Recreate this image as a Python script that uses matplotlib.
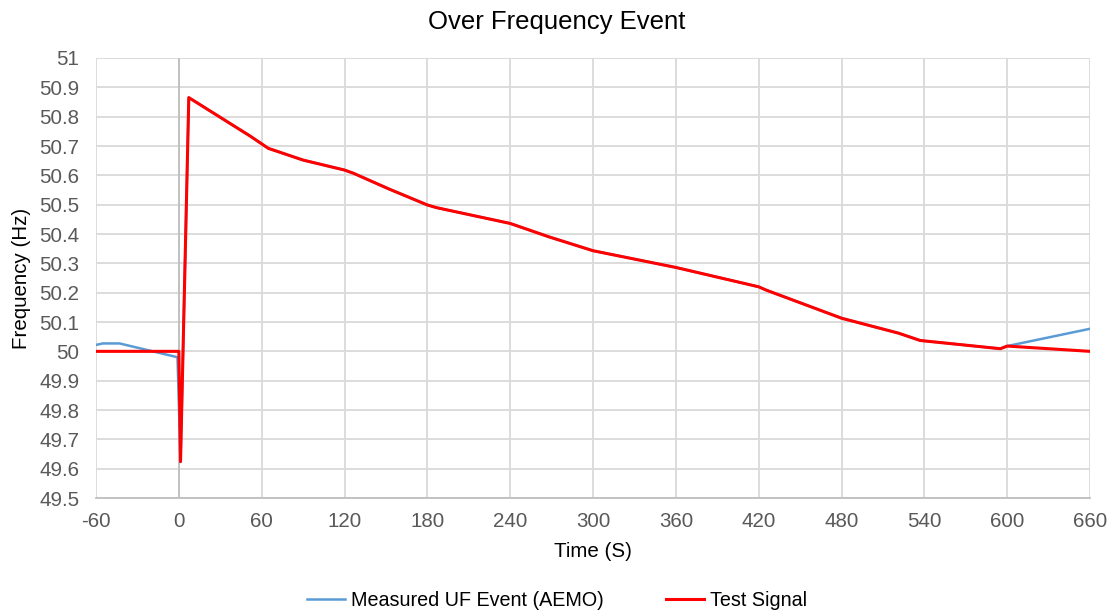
import matplotlib.pyplot as plt

# data
time_red = [-60, 0, 1.2, 7.2, 51.6, 64.8, 90, 120, 126.5, 152.4, 180, 186.5,
            240, 268.3, 300, 360, 420, 425.3, 480, 521.3, 537, 595, 600, 660]
freq_red = [50.0, 50.0, 49.624, 50.865, 50.734, 50.692, 50.652, 50.618, 50.607,
            50.553, 50.499, 50.49, 50.436, 50.39, 50.343, 50.286, 50.22, 50.209,
            50.113, 50.062, 50.037, 50.009, 50.018, 50.0]

time_blue = [-60, -55, -43, -1, 1.2, 7.2, 51.6, 64.8, 90, 120, 126.5, 152.4, 180,
             186.5, 240, 268.3, 300, 360, 420, 425.3, 480, 521.3, 537, 595, 600, 660]
freq_blue = [50.022, 50.027, 50.027, 49.98, 49.624, 50.865, 50.734, 50.692, 50.652,
             50.618, 50.607, 50.553, 50.499, 50.49, 50.436, 50.39, 50.343, 50.286,
             50.22, 50.209, 50.113, 50.062, 50.037, 50.009, 50.018, 50.077]

x_ticks = list(range(-60, 661, 60))
y_ticks = [49.5, 49.6, 49.7, 49.8, 49.9, 50, 50.1, 50.2, 50.3, 50.4, 50.5, 50.6, 50.7, 50.8, 50.9, 51]
y_labels = ["49.5", "49.6", "49.7", "49.8", "49.9", "50", "50.1", "50.2", "50.3",
            "50.4", "50.5", "50.6", "50.7", "50.8", "50.9", "51"]

plt.rcParams['font.family'] = ['Liberation Sans', 'DejaVu Sans']
plt.rcParams['axes.unicode_minus'] = False

fig = plt.figure(figsize=(11.14, 6.15), dpi=100)
ax = fig.add_axes([0.0862, 0.1902, 0.8923, 0.7155])

ax.plot(time_blue, freq_blue, color="#5b9bd5", linewidth=1.8, label="Measured UF Event (AEMO)")
ax.plot(time_red, freq_red, color="#ff0000", linewidth=2.2, label="Test Signal")

ax.set_xlim(-60, 660)
ax.set_ylim(49.5, 51)
ax.set_xticks(x_ticks)
ax.set_yticks(y_ticks)
ax.set_yticklabels(y_labels)
ax.grid(True, color="#d9d9d9", linewidth=1.3)
ax.set_axisbelow(True)
ax.axvline(0, color="#bfbfbf", linewidth=1.3, zorder=1)

for s in ["top", "right", "left"]:
    ax.spines[s].set_visible(False)
ax.spines["bottom"].set_color("#bfbfbf")
ax.spines["bottom"].set_linewidth(1.3)
ax.tick_params(axis="y", length=0, labelsize=14.8, colors="#595959", pad=12)
ax.tick_params(axis="x", length=0, labelsize=14.8, colors="#595959", pad=10)

fig.text(0.5, 1 - 22 / 615, "Over Frequency Event", fontsize=18.5, ha="center", va="center")
ax.set_xlabel("Time (S)", fontsize=14.8, labelpad=8)
ax.set_ylabel("Frequency (Hz)", fontsize=14.8, labelpad=6)

fig.legend(loc="center", bbox_to_anchor=(0.5, 1 - 600 / 615), ncol=2, frameon=False,
           fontsize=14.2, handlelength=1.9, handletextpad=0.3, columnspacing=3.2)

fig.savefig("out.png", dpi=100)
